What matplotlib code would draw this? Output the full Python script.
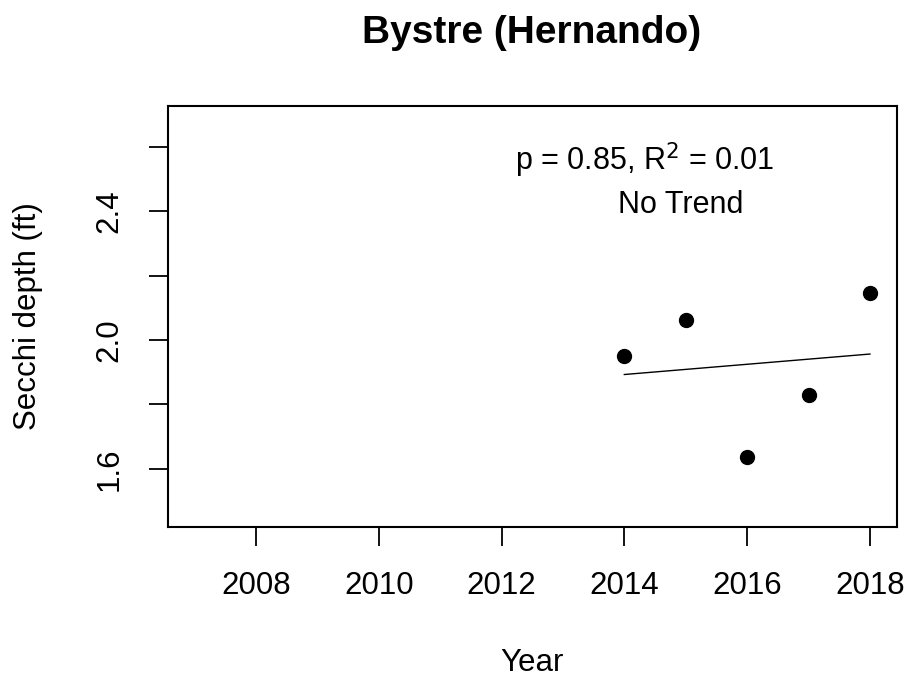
import matplotlib.pyplot as plt
import numpy as np

plt.rcParams['font.family'] = ['Liberation Sans', 'DejaVu Sans']

# data
years = [2014, 2015, 2016, 2017, 2018]
secchi = [1.950, 2.062, 1.636, 1.829, 2.146]
xticks = [2008, 2010, 2012, 2014, 2016, 2018]
yticks = [1.6, 1.8, 2.0, 2.2, 2.4, 2.6]
ylabels = ['1.6', '', '2.0', '', '2.4', '']

fig = plt.figure(figsize=(9.11, 6.81), dpi=100)
ax = fig.add_axes([0.1839, 0.2266, 0.8007, 0.6182])

# linear fit over the observed years
slope, icept = np.polyfit(years, secchi, 1)
xfit = np.array([years[0], years[-1]])
ax.plot(xfit, slope * xfit + icept, color='black', lw=1.0)
ax.plot(years, secchi, 'o', color='black', markersize=10)

ax.set_xlim(2006.56, 2018.44)
ax.set_ylim(1.420, 2.728)
ax.set_xticks(xticks)
ax.set_xticklabels([str(x) for x in xticks])
ax.set_yticks(yticks)
ax.set_yticklabels(ylabels, rotation=90, va='center')

ax.tick_params(axis='both', length=14, width=1.3, labelsize=22.5, direction='out')
ax.tick_params(axis='x', pad=18)
ax.tick_params(axis='y', pad=17)
for s in ax.spines.values():
    s.set_linewidth(1.5)

ax.text(2014.33, 2.56, r'p = 0.85, R$^2$ = 0.01', ha='center', va='center', fontsize=22)
ax.text(2014.91, 2.42, 'No Trend', ha='center', va='center', fontsize=22)

fig.text(0.584, 1 - 33 / 681, 'Bystre (Hernando)', ha='center', va='center',
         fontsize=28, fontweight='bold')
fig.text(0.584, 1 - 663 / 681, 'Year', ha='center', va='center', fontsize=22.5)
fig.text(28 / 911, 1 - 316 / 681, 'Secchi depth (ft)', ha='center', va='center',
         fontsize=22.5, rotation=90)

fig.savefig('out.png', dpi=100)
